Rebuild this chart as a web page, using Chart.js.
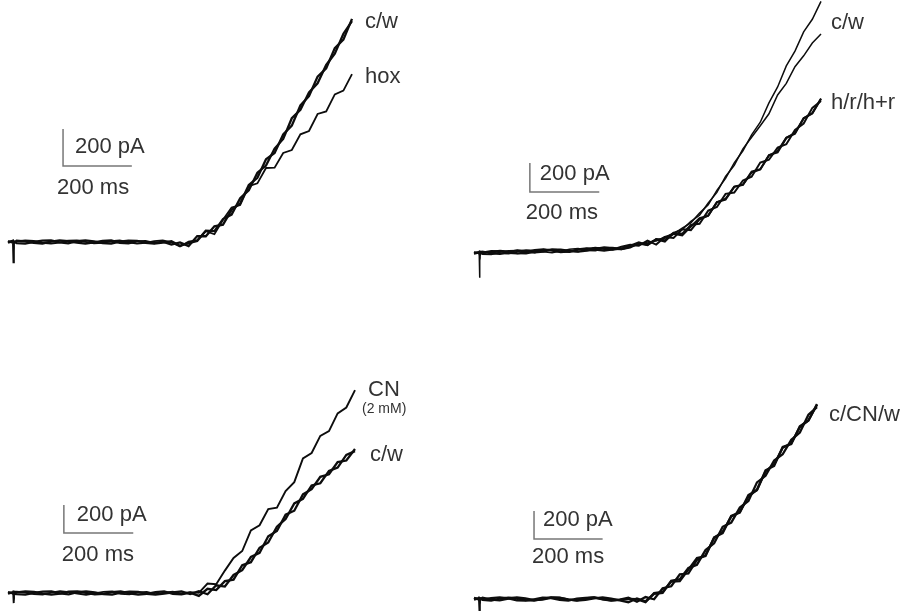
<!DOCTYPE html>
<html>
<head>
<meta charset="utf-8">
<script src="https://cdn.jsdelivr.net/npm/chart.js@4/dist/chart.umd.min.js"></script>
<style>
  html, body { margin: 0; padding: 0; background: #fff; }
  #wrap { position: relative; width: 908px; height: 612px; overflow: hidden; }
  .panel { position: absolute; width: 454px; height: 306px; }
</style>
</head>
<body>
<div id="wrap">
  <div class="panel" style="left:0;top:0"><canvas id="p1" width="454" height="306"></canvas></div>
  <div class="panel" style="left:454px;top:0"><canvas id="p2" width="454" height="306"></canvas></div>
  <div class="panel" style="left:0;top:306px"><canvas id="p3" width="454" height="306"></canvas></div>
  <div class="panel" style="left:454px;top:306px"><canvas id="p4" width="454" height="306"></canvas></div>
</div>
<script>
(function () {
  "use strict";

  // sample times (ms) shared by every sweep; 15/16/17 ms catch the capacity spike
  var timesMs = [0, 15, 16, 17, 25, 50, 75, 100, 125, 150, 175, 200, 225, 250, 275, 300, 325, 350,
    375, 400, 425, 450, 475, 500, 525, 550, 575, 600, 625, 650, 675, 700, 725, 750, 775, 800,
    825, 850, 875, 900, 925, 950, 975, 1000];

  // currents in pA
  // top left: control / wash and hox
  var p1CwA = [5, -4, -115, -6,
    7, 3, -5, -8, 2, 9, 4, -3, -9, -2, 6, 8, -4, -7, 3, 5, -6, 2,
    -14, -2, -22, 32, 31, 85, 94, 174, 209, 308, 347, 447, 481, 581, 629, 738, 789, 894, 939, 1048, 1094, 1206];
  var p1CwB = [-4, 6, 5, 3,
    -6, -9, 1, 7, 8, -2, -7, 5, 9, 3, -6, -8, 2, 7, 6, -4, -9, -3,
    4, -20, -6, 6, 61, 59, 124, 148, 237, 280, 375, 413, 505, 557, 669, 714, 809, 858, 957, 1018, 1126, 1194];
  var p1Hox = [0, 9, 6, -3,
    3, 8, 6, -4, -8, -3, 7, 9, 1, -7, -5, 4, 8, -2, -9, -5, 5, 8,
    -2, -24, 2, 10, 59, 42, 120, 186, 200, 302, 317, 400, 402, 481, 497, 582, 600, 692, 706, 798, 818, 907];

  // top right: control / wash and h / r / h+r
  var p2CwA = [0, 3, -170, 4,
    10, 6, -3, -6, 10, 21, 17, 9, 2, 13, 26, 31, 17, 15, 32, 38, 28, 48,
    58, 75, 82, 112, 132, 172, 208, 275, 332, 432, 515, 622, 705, 815, 902, 1035, 1145, 1290, 1392, 1525, 1612, 1735];
  var p2CwB = [3, -4, -1, 8,
    -8, -10, 5, 15, 18, 6, 1, 20, 26, 20, 10, 9, 25, 35, 36, 25, 24, 41,
    64, 68, 92, 102, 140, 162, 218, 260, 345, 418, 528, 604, 718, 798, 878, 960, 1090, 1170, 1285, 1360, 1448, 1510];
  var p2H = [-2, 7, 4, -5,
    4, 13, 12, 0, -4, 5, 21, 25, 15, 6, 11, 26, 33, 22, 16, 24, 43, 56,
    51, 85, 58, 110, 104, 164, 158, 232, 258, 350, 374, 458, 471, 555, 576, 672, 703, 794, 827, 929, 962, 1062];
  var p2R = [6, 2, 0, -3,
    -3, 8, 16, 10, -2, -3, 9, 22, 21, 10, 7, 22, 30, 37, 28, 22, 32, 51,
    73, 56, 94, 79, 140, 133, 194, 201, 292, 317, 408, 417, 500, 526, 624, 643, 727, 750, 848, 893, 1001, 1048];
  var p2HR = [-5, 4, 7, 10,
    9, -3, -6, 7, 19, 14, 3, 9, 24, 24, 15, 8, 16, 30, 39, 34, 26, 38,
    66, 54, 96, 88, 132, 122, 183, 241, 258, 351, 368, 456, 470, 561, 578, 675, 694, 794, 823, 930, 965, 1065];

  // bottom left: CN (2 mM) and control / wash
  var p3CN = [3, 0, -72, 8,
    10, 4, -7, -11, 3, 12, 6, -4, -12, -3, 8, 11, -5, -10, 4, 7, -8, 3,
    9, -4, 6,
    1, 68, 63, 160, 250, 300, 447, 484, 600, 610, 728, 792, 962, 1000, 1122, 1156, 1283, 1325, 1449];
  var p3CwA = [-4, 6, 2, -6,
    -8, -12, 1, 10, 11, -3, -10, 7, 12, 4, -8, -11, 3, 10, 8, -6, -12, -4,
    5, 11, -7,
    13, -9, 55, 46, 129, 163, 257, 287, 405, 443, 560, 588, 704, 742, 830, 848, 935, 946, 1029];
  var p3CwB = [6, -3, 3, 9,
    4, 11, 8, -5, -11, -4, 10, 12, 1, -10, -7, 6, 11, -3, -12, -7, 7, 11,
    -6, -9, 3,
    -21, 30, 21, 85, 95, 199, 220, 323, 361, 474, 529, 640, 673, 768, 784, 872, 896, 987, 1013];

  // bottom right: control / CN / wash
  var p4C = [4, 2, -85, 7,
    -3, 6, 12, 5, -9, -12, -2, 9, 7, -6, -11, 2, 8, 12, 0, -9, -4,
    9, -19, 14, -2, 77, 91, 176, 182, 279, 313, 435, 480, 590, 622, 731, 781, 911, 963, 1080, 1113, 1228, 1275, 1387];
  var p4CN = [-5, 6, 3, -2,
    9, -5, -10, 2, 12, 5, -8, -4, 10, 8, -3, -12, -6, 5, 11, 3, -10,
    -23, 4, -17, 37, 43, 130, 142, 221, 245, 349, 398, 516, 546, 653, 700, 833, 880, 989, 1034, 1137, 1189, 1316, 1371];
  var p4W = [8, -4, 0, 5,
    -6, -11, 2, 9, 6, -8, -12, 1, 11, 10, -4, -9, 4, 11, -2, -12, -6,
    1, -1, -23, 42, 51, 125, 127, 210, 292, 307, 440, 470, 593, 617, 742, 778, 919, 950, 1086, 1106, 1233, 1275, 1392];

  var barPa = 200;
  var barMs = 200;
  var barTexts = ["200 pA", "200 ms"];

  var FONT = "'Liberation Sans', Arial, sans-serif";
  var W = 454, H = 306;

  // origin = pixel of (0 ms, 0 pA) inside each panel
  var panels = [
    {
      id: "p1", origin: [8, 242], pxPerMs: 0.344, pxPerPa: 0.185,
      traces: [p1CwA, p1CwB, p1Hox], widths: [2.3, 2.3, 1.8],
      bar: [160, 411], paOff: [12, -13], msOff: [-6, 28],
      labels: [
        { text: "c/w", x: 365, y: 28, size: 22 },
        { text: "hox", x: 365, y: 83, size: 22 }
      ]
    },
    {
      id: "p2", origin: [20, 253], pxPerMs: 0.347, pxPerPa: 0.145,
      traces: [p2CwA, p2CwB, p2H, p2R, p2HR], widths: [1.5, 1.5, 2, 2, 2],
      bar: [161, 421], paOff: [10, -12], msOff: [-4, 27],
      labels: [
        { text: "c/w", x: 377, y: 29, size: 22 },
        { text: "h/r/h+r", x: 377, y: 109, size: 22 }
      ]
    },
    {
      id: "p3", origin: [8, 287], pxPerMs: 0.347, pxPerPa: 0.14,
      traces: [p3CN, p3CwA, p3CwB], widths: [1.9, 2.3, 2.3],
      bar: [161, 429], paOff: [13, -12], msOff: [-2, 28],
      labels: [
        { text: "CN", x: 368, y: 90, size: 22 },
        { text: "(2 mM)", x: 362, y: 107, size: 14 },
        { text: "c/w", x: 370, y: 155, size: 22 }
      ]
    },
    {
      id: "p4", origin: [20, 293], pxPerMs: 0.343, pxPerPa: 0.14,
      traces: [p4C, p4CN, p4W], widths: [2.3, 2.3, 2.3],
      bar: [175, 429], paOff: [9, -13], msOff: [-2, 24],
      labels: [
        { text: "c/CN/w", x: 375, y: 115, size: 22 }
      ]
    }
  ];

  var annotate = {
    id: "annotate",
    afterDatasetsDraw: function (chart, args, opts) {
      var ctx = chart.ctx;
      var cx = chart.scales.x.getPixelForValue(opts.bar[0]);
      var cy = chart.scales.y.getPixelForValue(opts.bar[1]);
      ctx.save();
      ctx.fillStyle = "#333";
      ctx.textBaseline = "alphabetic";
      ctx.font = "22px " + FONT;
      ctx.fillText(barTexts[0], cx + opts.paOff[0], cy + opts.paOff[1]);
      ctx.fillText(barTexts[1], cx + opts.msOff[0], cy + opts.msOff[1]);
      opts.labels.forEach(function (lb) {
        ctx.font = lb.size + "px " + FONT;
        ctx.fillText(lb.text, lb.x, lb.y);
      });
      ctx.restore();
    }
  };

  panels.forEach(function (p) {
    var datasets = p.traces.map(function (vals, k) {
      return {
        data: timesMs.map(function (t, i) { return { x: t, y: vals[i] }; }),
        borderColor: "#0d0d0d",
        borderWidth: p.widths[k],
        pointRadius: 0,
        fill: false
      };
    });
    // L-shaped calibration bar
    datasets.push({
      data: [
        { x: p.bar[0], y: p.bar[1] + barPa },
        { x: p.bar[0], y: p.bar[1] },
        { x: p.bar[0] + barMs, y: p.bar[1] }
      ],
      borderColor: "#777",
      borderWidth: 1.5,
      pointRadius: 0,
      fill: false
    });

    new Chart(document.getElementById(p.id), {
      type: "line",
      data: { datasets: datasets },
      plugins: [annotate],
      options: {
        responsive: false,
        animation: false,
        layout: { padding: 0 },
        elements: { line: { tension: 0 } },
        plugins: {
          legend: { display: false },
          tooltip: { enabled: false },
          annotate: { bar: p.bar, paOff: p.paOff, msOff: p.msOff, labels: p.labels }
        },
        scales: {
          x: {
            type: "linear", display: false,
            min: -p.origin[0] / p.pxPerMs,
            max: (W - p.origin[0]) / p.pxPerMs
          },
          y: {
            type: "linear", display: false,
            min: -(H - p.origin[1]) / p.pxPerPa,
            max: p.origin[1] / p.pxPerPa
          }
        }
      }
    });
  });
})();
</script>
</body>
</html>
